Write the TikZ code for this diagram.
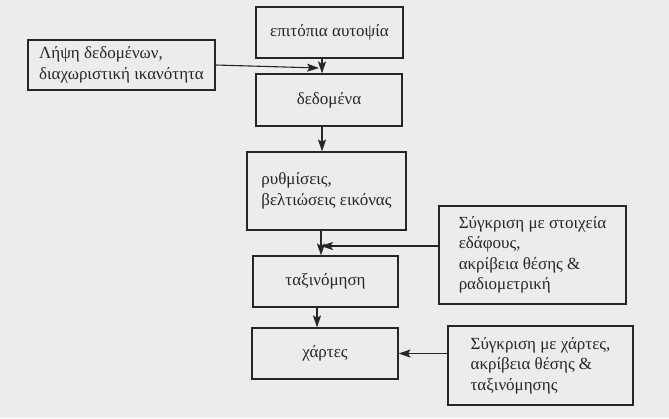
\documentclass[tikz,border=0pt]{standalone}
\usepackage{fontspec}
\setmainfont{Liberation Serif}
\usetikzlibrary{arrows.meta, positioning, calc}
\definecolor{paper}{HTML}{ECECEA}
\definecolor{ink}{HTML}{262626}

\tikzset{
  stage/.style={draw=ink, line width=1.1pt, inner sep=4pt, align=left,
    font=\fontsize{17}{20.5}\selectfont, text=ink},
  flow/.style={->, draw=ink, line width=1.1pt}
}

\begin{document}
\begin{tikzpicture}[x=1pt, y=-1pt, >={Stealth[length=12pt, width=8pt, inset=2.5pt]}]

% Background (scanned page)
\fill[paper] (0,0) rectangle (669,418);
\useasboundingbox (0,0) rectangle (669,418);

% --- main column ---
\node[stage, minimum width=147, minimum height=51] (site) at (329.5,32.5) {επιτόπια αυτοψία};
\node[stage, minimum width=146, minimum height=52] (data) at (329,100) {δεδομένα};
\node[stage, minimum width=159, minimum height=78] (enh) at (326.5,191) {ρυθμίσεις,\\βελτιώσεις εικόνας};
\node[stage, minimum width=145, minimum height=51] (cls) at (325.5,281.5) {ταξινόμηση};
\node[stage, minimum width=146, minimum height=51] (maps) at (325,353.5) {χάρτες};

% --- side inputs ---
\node[stage, minimum width=187, minimum height=50] (acq) at (121.5,65) {Λήψη δεδομένων,\\διαχωριστική ικανότητα};
\node[stage, minimum width=187, minimum height=98] (grd) at (532.5,255) {Σύγκριση με στοιχεία\\εδάφους,\\ακρίβεια θέσης \&\\ραδιομετρική};
\node[stage, minimum width=185, minimum height=79] (cmp) at (540.5,365.5) {Σύγκριση με χάρτες,\\ακρίβεια θέσης \&\\ταξινόμησης};

% Junctions on the vertical flow
\coordinate (j1) at (322,68);
\coordinate (j2) at (321,246);
\coordinate (j3) at (317,317);

% Arrows
\draw[flow] (site.south -| j1) -- (data.north -| j1);
\draw[flow] (acq.east) -- ([xshift=-3pt]j1);
\draw[flow] (data.south -| j1) -- (enh.north -| j1);
\draw[flow] (enh.south -| j2) -- (cls.north -| j2);
\draw[flow] (grd.west |- j2) -- (j2);
\draw[flow] (cls.south -| j3) -- (maps.north -| j3);
\draw[flow] (cmp.west |- maps.east) -- (maps.east);

\end{tikzpicture}
\end{document}
